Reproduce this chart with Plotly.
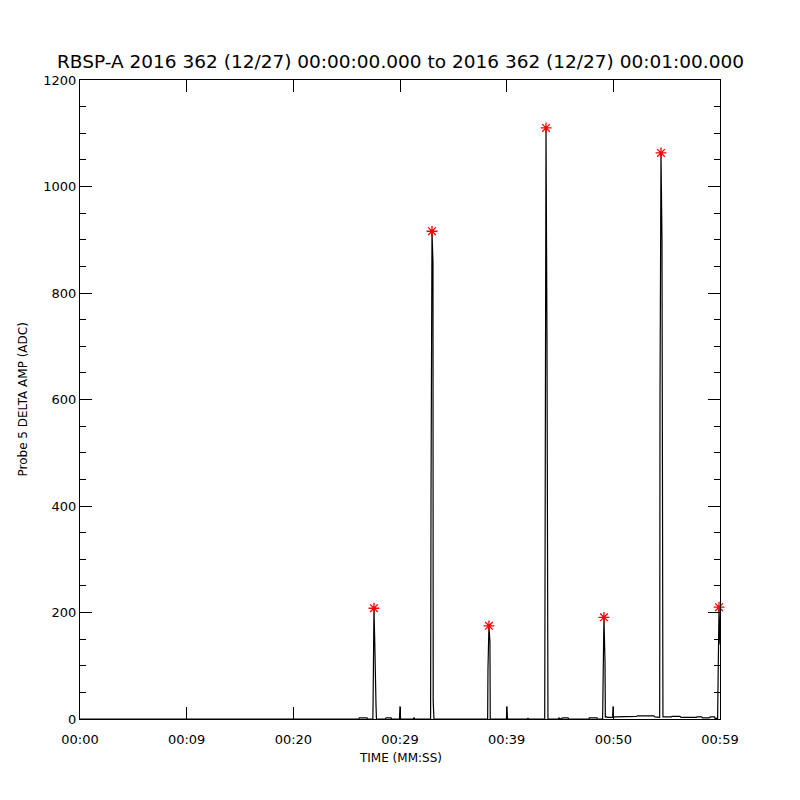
import plotly.graph_objects as go

# probe 5 delta amplitude trace (seconds after 00:00:00, ADC counts)
trace_time = [0.00, 25.70, 25.75, 26.46, 26.50, 27.00,
              27.02, 27.10, 27.19, 27.22, 27.29, 27.33,
              28.15, 28.21, 28.67, 28.72, 29.45, 29.50, 29.55, 30.74, 30.79, 30.84,
              32.32, 32.36, 32.45, 32.54, 32.56, 32.63,
              37.58, 37.61, 37.70, 37.79, 37.82,
              39.31, 39.36, 39.41, 41.25, 41.30, 41.35,
              42.84, 42.87, 42.96, 43.05, 43.08, 43.14,
              44.10, 44.16, 44.22, 44.53, 44.99, 45.04, 46.92, 46.95, 47.66, 47.70,
              48.18, 48.21, 48.30, 48.40, 48.43, 48.49, 48.60, 49.10, 49.14, 49.18,
              49.32, 50.50, 50.60, 51.30, 51.40, 52.90, 53.00, 53.44,
              53.47, 53.56, 53.65, 53.68, 53.74,
              54.50, 54.60, 55.30, 55.40, 56.80, 56.90, 57.30, 57.40, 58.00, 58.10,
              58.50, 58.55, 58.78,
              58.82, 58.91, 59.00]
trace_amp = [0, 0, 2, 2, 0, 0,
             34, 208, 128, 30, 24, 0,
             0, 2, 2, 0, 0, 24, 0, 0, 3, 0,
             0, 417, 916, 856, 34, 0,
             0, 94, 175, 145, 0,
             0, 24, 0, 0, 2, 0,
             0, 210, 1110, 712, 156, 0,
             0, 2, 0, 2, 2, 0, 0, 2, 2, 0,
             0, 58, 191, 107, 3, 5, 3, 3, 24, 3,
             4, 4, 5, 5, 6, 6, 4, 3,
             605, 1063, 903, 10, 4,
             4, 5, 5, 3, 3, 4, 4, 2, 2, 4,
             4, 1, 1,
             130, 210, 140]

# flagged peaks
peak_time = [27.10, 32.45, 37.70, 42.96, 48.30, 53.56, 58.91]
peak_amp = [208, 916, 175, 1110, 191, 1063, 210]

xtick_vals = [0, 9.83, 19.67, 29.5, 39.33, 49.17, 59]
xtick_text = ["00:00", "00:09", "00:20", "00:29", "00:39", "00:50", "00:59"]

font = "DejaVu Sans"

fig = go.Figure()
fig.add_trace(go.Scatter(x=trace_time, y=trace_amp, mode="lines",
                         line=dict(color="black", width=1.2), hoverinfo="skip"))
fig.add_trace(go.Scatter(x=peak_time, y=peak_amp, mode="markers", cliponaxis=False,
                         marker=dict(symbol="asterisk-open", size=9, color="red",
                                     line=dict(color="red", width=1.3))))

# page body has an 8px offset, so margins are shifted to compensate
fig.update_layout(
    width=800, height=800,
    margin=dict(l=72, r=88, t=72, b=89, autoexpand=False),
    paper_bgcolor="white", plot_bgcolor="white",
    showlegend=False,
    font=dict(family=font, size=13, color="black"),
    annotations=[
        dict(text="RBSP-A 2016 362 (12/27) 00:00:00.000 to 2016 362 (12/27) 00:01:00.000",
             xref="paper", yref="paper", x=0.5, y=1, yshift=19, yanchor="middle",
             showarrow=False, font=dict(size=18.5)),
        dict(text="TIME (MM:SS)", xref="paper", yref="paper", x=0.5, y=0,
             yshift=-39, yanchor="middle", showarrow=False, font=dict(size=12)),
        dict(text="Probe 5 DELTA AMP (ADC)", xref="paper", yref="paper", x=0, y=0.5,
             xshift=-58, textangle=-90, xanchor="center", showarrow=False,
             font=dict(size=12)),
    ],
)
fig.update_xaxes(range=[0, 59], tickvals=xtick_vals, ticktext=xtick_text,
                 ticks="inside", ticklen=12, tickcolor="black",
                 showline=True, linecolor="black", linewidth=1, mirror="ticks",
                 showgrid=False, zeroline=False, ticklabelstandoff=8)
fig.update_yaxes(range=[0, 1200], dtick=200, tick0=0,
                 ticks="inside", ticklen=12, tickcolor="black",
                 minor=dict(dtick=50, ticks="inside", ticklen=6, tickcolor="black", showgrid=False),
                 showline=True, linecolor="black", linewidth=1, mirror="ticks",
                 showgrid=False, zeroline=False)

fig.write_html("out.html")
